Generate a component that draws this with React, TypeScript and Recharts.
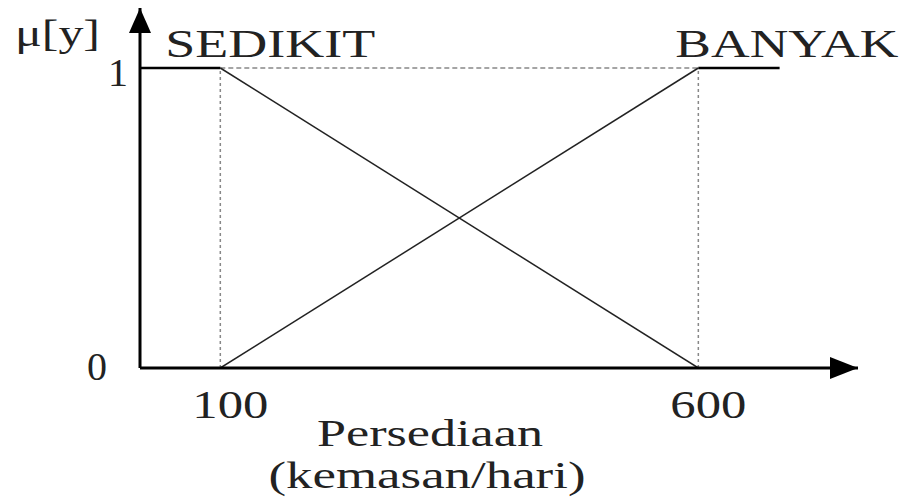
import { LineChart, Line, XAxis, YAxis, ReferenceLine, ReferenceDot, Label } from 'recharts';

// membership breakpoints (persediaan, kemasan/hari)
const sedikitX = [16, 100, 600];
const sedikitMu = [1, 1, 0];
const banyakX = [100, 600, 685];
const banyakMu = [0, 1, 1];
const xTicks = [100, 600];
const yTicks = [0, 1];
const X_DOMAIN: [number, number] = [16, 767];
const Y_DOMAIN: [number, number] = [0, 1.2];

const TXT = { fontFamily: 'Liberation Serif', fill: '#222' };

const toPoints = (xs: number[], ys: number[]) => xs.map((x, i) => ({ x, y: ys[i] }));

const sedikit = toPoints(sedikitX, sedikitMu);
const banyak = toPoints(banyakX, banyakMu);

const XTick = ({ x, y, payload }: any) => (
	<text x={x + 10} y={y + 42} textAnchor='middle' style={TXT} fontSize={40} textLength={76} lengthAdjust='spacingAndGlyphs'>
		{payload.value}
	</text>
);

const YTick = ({ y, payload }: any) => {
	const isOne = payload.value === 1;
	return (
		<text x={isOne ? 108 : 87} y={y + (isOne ? 18 : 12)} style={TXT} fontSize={40}>
			{payload.value}
		</text>
	);
};

const Arrow = ({ cx, cy, dir }: any) =>
	dir === 'right' ? (
		<polygon points={`${cx},${cy} ${cx - 28},${cy - 11} ${cx - 28},${cy + 11}`} fill='#000' />
	) : (
		<polygon points={`${cx},${cy} ${cx - 11},${cy + 25} ${cx + 11},${cy + 25}`} fill='#000' />
	);

const SetName = ({ cx, cy, text, dx, width }: any) => (
	<text x={cx + dx} y={cy - 11} style={TXT} fontSize={41} textLength={width} lengthAdjust='spacingAndGlyphs'>
		{text}
	</text>
);

export default function App() {
	return (
		<div style={{ position: 'absolute', left: 0, top: 0, width: 907, height: 500, background: '#fff' }}>
			<LineChart width={907} height={500} margin={{ top: 8, right: 49, left: 40, bottom: 32 }}>
				<XAxis
					type='number'
					dataKey='x'
					domain={X_DOMAIN}
					allowDataOverflow
					ticks={xTicks}
					tickLine={false}
					axisLine={{ stroke: '#000', strokeWidth: 3 }}
					height={100}
					tick={<XTick />}
				>
					<Label
						content={({ viewBox }: any) => {
							const cx = viewBox.x + 290;
							return (
								<g>
									<text x={cx} y={viewBox.y + 78} textAnchor='middle' style={TXT} fontSize={37} textLength={226} lengthAdjust='spacingAndGlyphs'>
										Persediaan
									</text>
									<text x={cx - 3} y={viewBox.y + 120} textAnchor='middle' style={TXT} fontSize={37} textLength={317} lengthAdjust='spacingAndGlyphs'>
										(kemasan/hari)
									</text>
								</g>
							);
						}}
					/>
				</XAxis>
				<YAxis
					type='number'
					domain={Y_DOMAIN}
					allowDataOverflow
					ticks={yTicks}
					tickLine={false}
					axisLine={{ stroke: '#000', strokeWidth: 3 }}
					width={100}
					tick={<YTick />}
				>
					<Label
						content={({ viewBox }: any) => (
							<text x={viewBox.x - 25} y={viewBox.y + 38} style={TXT} fontSize={38} textLength={85} lengthAdjust='spacingAndGlyphs'>
								μ[y]
							</text>
						)}
					/>
				</YAxis>

				{/* dotted guides */}
				<ReferenceLine segment={[{ x: banyakX[0], y: 0 }, { x: banyakX[0], y: 1 }]} stroke='#888' strokeDasharray='3 3' strokeWidth={1.5} />
				<ReferenceLine segment={[{ x: banyakX[1], y: 0 }, { x: banyakX[1], y: 1 }]} stroke='#888' strokeDasharray='3 3' strokeWidth={1.5} />
				<ReferenceLine segment={[{ x: sedikitX[1], y: 1 }, { x: banyakX[1], y: 1 }]} stroke='#888' strokeDasharray='5 3' strokeWidth={1.5} />

				<Line data={sedikit.slice(0, 2)} dataKey='y' stroke='#000' strokeWidth={2.5} dot={false} activeDot={false} isAnimationActive={false} />
				<Line data={sedikit.slice(1)} dataKey='y' stroke='#222' strokeWidth={1.5} dot={false} activeDot={false} isAnimationActive={false} />
				<Line data={banyak.slice(0, 2)} dataKey='y' stroke='#222' strokeWidth={1.5} dot={false} activeDot={false} isAnimationActive={false} />
				<Line data={banyak.slice(1)} dataKey='y' stroke='#000' strokeWidth={2.5} dot={false} activeDot={false} isAnimationActive={false} />

				<ReferenceDot x={sedikitX[1]} y={1} ifOverflow='visible' shape={(p: any) => <SetName {...p} text='SEDIKIT' dx={-55} width={210} />} />
				<ReferenceDot x={banyakX[1]} y={1} ifOverflow='visible' shape={(p: any) => <SetName {...p} text='BANYAK' dx={-23} width={223} />} />

				<ReferenceDot x={X_DOMAIN[1]} y={0} ifOverflow='visible' shape={(p: any) => <Arrow {...p} dir='right' />} />
				<ReferenceDot x={X_DOMAIN[0]} y={Y_DOMAIN[1]} ifOverflow='visible' shape={(p: any) => <Arrow {...p} dir='up' />} />
			</LineChart>
		</div>
	);
}
